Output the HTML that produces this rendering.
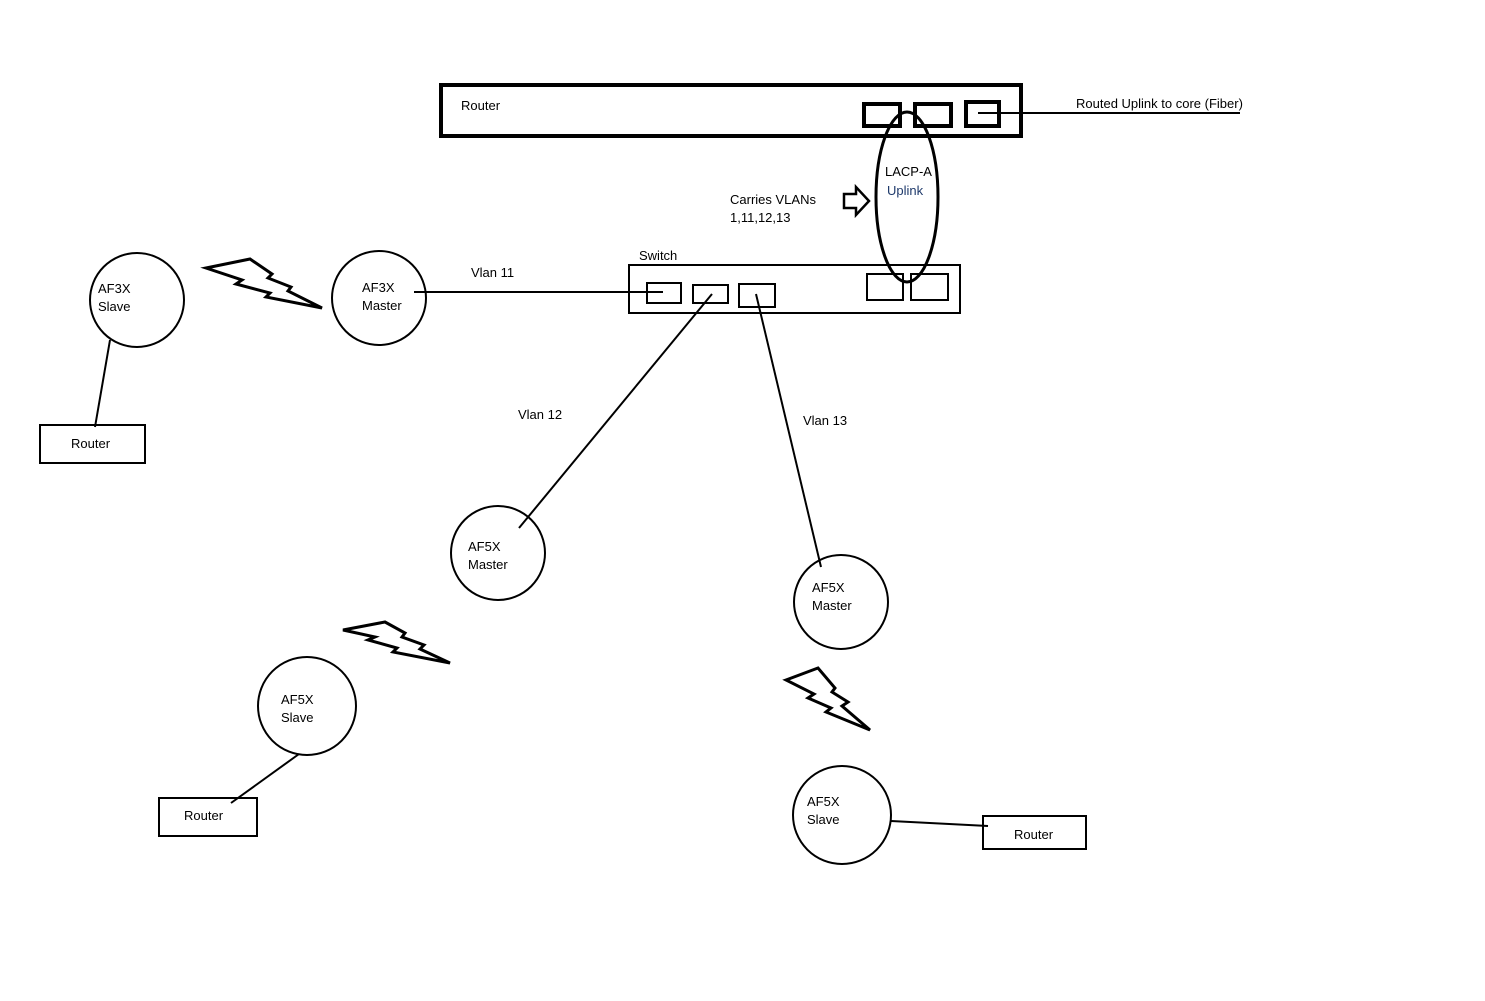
<!DOCTYPE html>
<html><head><style>
html,body{margin:0;padding:0;background:#fff;}
svg{display:block;}
text{font-family:"Liberation Sans",sans-serif;font-size:13px;fill:#000;}
</style></head><body>
<svg width="1485" height="1001" viewBox="0 0 1485 1001" xmlns="http://www.w3.org/2000/svg">
<g fill="none" stroke="#000" stroke-width="2">
<rect x="441" y="85" width="580" height="51" stroke-width="4"/>
<rect x="864" y="104" width="36" height="22" stroke-width="4"/>
<rect x="915" y="104" width="36" height="22" stroke-width="4"/>
<rect x="966" y="102" width="33" height="24" stroke-width="4"/>
<line x1="978" y1="113" x2="1240" y2="113"/>
<ellipse cx="907" cy="197" rx="31" ry="85" stroke-width="3"/>
<path d="M844 194 L856 194 L856 187 L869 201 L856 215 L856 208 L844 208 Z" stroke-width="2.5"/>
<rect x="629" y="265" width="331" height="48"/>
<rect x="647" y="283" width="34" height="20"/>
<rect x="693" y="285" width="35" height="18"/>
<rect x="739" y="284" width="36" height="23"/>
<rect x="867" y="274" width="36" height="26"/>
<rect x="911" y="274" width="37" height="26"/>
<circle cx="137" cy="300" r="47"/>
<circle cx="379" cy="298" r="47"/>
<circle cx="498" cy="553" r="47"/>
<circle cx="841" cy="602" r="47"/>
<circle cx="307" cy="706" r="49"/>
<circle cx="842" cy="815" r="49"/>
<rect x="40" y="425" width="105" height="38"/>
<rect x="159" y="798" width="98" height="38"/>
<rect x="983" y="816" width="103" height="33"/>
<line x1="414" y1="292" x2="663" y2="292"/>
<line x1="712" y1="294" x2="519" y2="528"/>
<line x1="756" y1="294" x2="821" y2="567"/>
<line x1="110" y1="340" x2="95" y2="427"/>
<line x1="299" y1="754" x2="231" y2="803"/>
<line x1="891" y1="821" x2="988" y2="826"/>
<g stroke-width="3" stroke-linejoin="miter">
<path d="M206 268 L250 259 L272 274 L268 278 L291 287 L288 291 L322 308 L266 297 L270 293 L236 284 L242 280 Z"/>
<path d="M343 630 L385 622 L405 633 L402 637 L424 645 L420 649 L450 663 L393 652 L397 648 L368 640 L375 637 Z"/>
<path d="M786 680 L818 668 L835 688 L832 692 L848 702 L842 706 L870 730 L826 712 L831 708 L808 698 L814 694 Z"/>
</g>
</g>
<text x="461" y="110">Router</text>
<text x="1076" y="108">Routed Uplink to core (Fiber)</text>
<text x="885" y="176">LACP-A</text>
<text x="887" y="195" style="fill:#1f3a6b">Uplink</text>
<text x="730" y="204">Carries VLANs</text>
<text x="730" y="222">1,11,12,13</text>
<text x="639" y="260">Switch</text>
<text x="471" y="277">Vlan 11</text>
<text x="518" y="419">Vlan 12</text>
<text x="803" y="425">Vlan 13</text>
<text x="98" y="293">AF3X</text>
<text x="98" y="311">Slave</text>
<text x="362" y="292">AF3X</text>
<text x="362" y="310">Master</text>
<text x="71" y="448">Router</text>
<text x="468" y="551">AF5X</text>
<text x="468" y="569">Master</text>
<text x="812" y="592">AF5X</text>
<text x="812" y="610">Master</text>
<text x="281" y="704">AF5X</text>
<text x="281" y="722">Slave</text>
<text x="184" y="820">Router</text>
<text x="807" y="806">AF5X</text>
<text x="807" y="824">Slave</text>
<text x="1014" y="839">Router</text>
</svg>
</body></html>
